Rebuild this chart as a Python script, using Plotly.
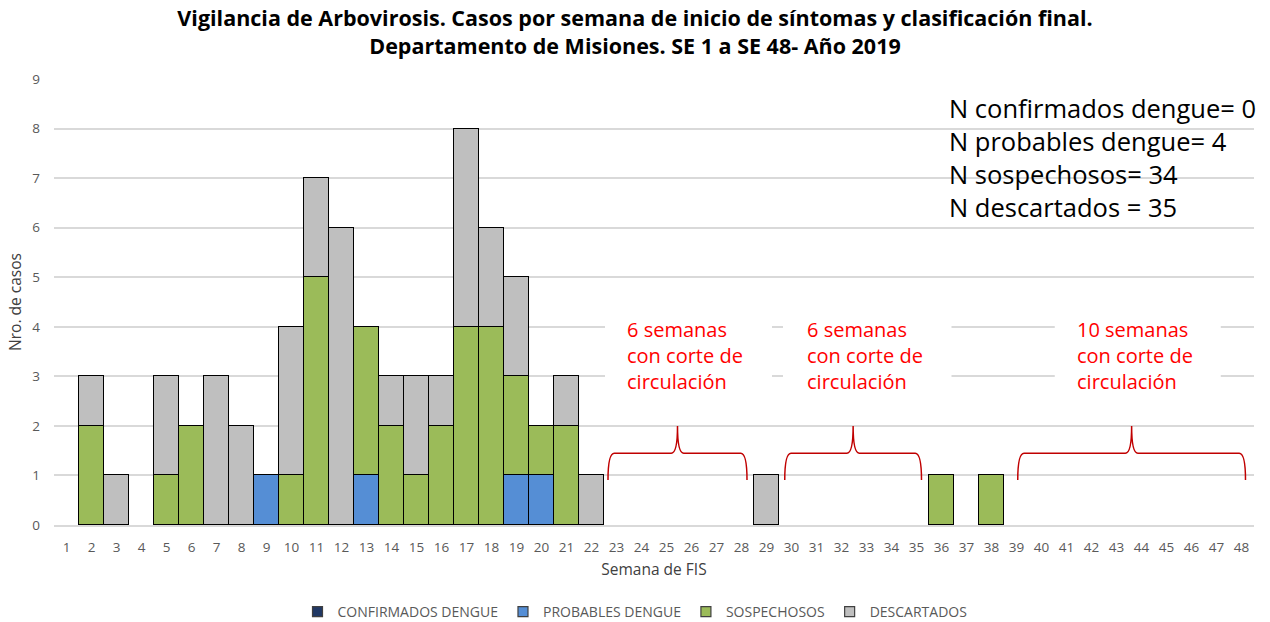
import plotly.graph_objects as go

weeks = list(range(1, 49))
confirmados = [0] * 48
probables = [0]*48
sospechosos = [0]*48
descartados = [0]*48

probables_data = {9: 1, 13: 1, 19: 1, 20: 1}
sospechosos_data = {2: 2, 5: 1, 6: 2, 10: 1, 11: 5, 13: 3, 14: 2, 15: 1, 16: 2,
                    17: 4, 18: 4, 19: 2, 20: 1, 21: 2, 36: 1, 38: 1}
descartados_data = {2: 1, 3: 1, 5: 2, 7: 3, 8: 2, 10: 3, 11: 2, 12: 6, 14: 1,
                    15: 2, 16: 1, 17: 4, 18: 2, 19: 2, 21: 1, 22: 1, 29: 1}
for w, v in probables_data.items():
    probables[w-1] = v
for w, v in sospechosos_data.items():
    sospechosos[w-1] = v
for w, v in descartados_data.items():
    descartados[w-1] = v

series_names = ["CONFIRMADOS DENGUE", "PROBABLES DENGUE", "SOSPECHOSOS", "DESCARTADOS"]
series_values = [confirmados, probables, sospechosos, descartados]
series_colors = ["#203864", "#558ED5", "#9BBB59", "#BFBFBF"]

summary_lines = ["N confirmados dengue= 0", "N probables dengue= 4",
                 "N sospechosos= 34", "N descartados = 35"]

# brace spans (start week, end week) and labels
brace_start = [22.66, 29.73, 39.05]
brace_end = [28.22, 35.2, 48.16]
brace_labels = ["6 semanas<br>con corte de<br>circulación",
                "6 semanas<br>con corte de<br>circulación",
                "10 semanas<br>con corte de<br>circulación"]

fig = go.Figure()
for name, vals, col in zip(series_names, series_values, series_colors):
    fig.add_trace(go.Bar(
        x=weeks, y=[v if v else None for v in vals], name=name, showlegend=False,
        marker=dict(color=col, line=dict(color="black", width=1.5)),
    ))
    # legend entry with small square symbol
    fig.add_trace(go.Scatter(
        x=[None], y=[None], mode="markers", name=name,
        marker=dict(symbol="square", size=10, color=col, line=dict(color="#404040", width=1.2)),
    ))

shapes = []
annotations = []
yb, ym, yt = 0.91, 1.45, 2.0
dx = 0.25
# white label boxes (layout positions)
box_x = [(22.54, 29.22), (29.66, 36.4), (40.53, 47.17)]
text_x = [23.34, 30.53, 41.32]
for (bx0, bx1), tx, x0, x1, lab in zip(box_x, text_x, brace_start, brace_end, brace_labels):
    shapes.append(dict(type="rect", xref="x", yref="y", x0=bx0, x1=bx1, y0=2.4, y1=4.3,
                       fillcolor="white", line=dict(width=0), layer="between"))
    xc = (x0 + x1) / 2
    path = (f"M {x0},{yb} Q {x0},{ym} {x0+dx},{ym} L {xc-dx},{ym} "
            f"Q {xc},{ym} {xc},{yt} Q {xc},{ym} {xc+dx},{ym} "
            f"L {x1-dx},{ym} Q {x1},{ym} {x1},{yb}")
    shapes.append(dict(type="path", path=path, xref="x", yref="y",
                       line=dict(color="#C00000", width=1.5)))
    annotations.append(dict(x=tx, y=4.25, xref="x", yref="y", xanchor="left", yanchor="top",
                            text=lab, showarrow=False, align="left",
                            font=dict(size=20, color="#FF0000", family="Open Sans")))

annotations.append(dict(x=0.744, y=0.978, xref="paper", yref="paper", xanchor="left",
                        yanchor="top", text="<br>".join(summary_lines), showarrow=False,
                        align="left", font=dict(size=25.5, color="black", family="Open Sans")))

fig.update_layout(
    width=1270, height=622,
    margin=dict(l=53.5, r=15.5, t=79, b=97),
    paper_bgcolor="white", plot_bgcolor="white",
    barmode="stack", bargap=0,
    font=dict(family="Open Sans", color="#595959", size=13),
    title=dict(text="Vigilancia de Arbovirosis. Casos por semana de inicio de síntomas y clasificación final.<br>Departamento de Misiones. SE 1 a SE 48- Año 2019",
               x=0.5, xanchor="center", y=1 - 26 / 622, yref="container", yanchor="top",
               pad=dict(t=0, b=0),
               font=dict(size=21.5, color="black", family="Open Sans", weight="bold")),
    xaxis=dict(range=[0.5, 48.5], tickmode="array", tickvals=weeks, automargin=False,
               ticktext=[str(w) for w in weeks], showgrid=False, zeroline=False,
               showline=True, linecolor="#D9D9D9", linewidth=1.5, ticks="",
               ticklabelstandoff=9, tickfont=dict(size=13.5, color="#595959"),
               title=dict(text="Semana de FIS", standoff=9, font=dict(size=15.5, color="#404040"))),
    yaxis=dict(range=[0, 9], dtick=1, showgrid=True, gridcolor="#D9D9D9", gridwidth=1.5,
               zeroline=False, ticks="", ticklabelstandoff=13, automargin=False,
               tickfont=dict(size=13.5, color="#595959"),
               title=dict(text="Nro. de casos", standoff=6, font=dict(size=15.5, color="#404040"))),
    legend=dict(orientation="h", x=0.5, xanchor="center", xref="container",
                y=10 / 622, yref="container", yanchor="middle",
                font=dict(size=14, color="#595959"), traceorder="normal",
                itemwidth=30),
    shapes=shapes, annotations=annotations,
)

fig.write_html("out.html", config={"displayModeBar": False},
               post_script="document.body.style.margin='0';")
